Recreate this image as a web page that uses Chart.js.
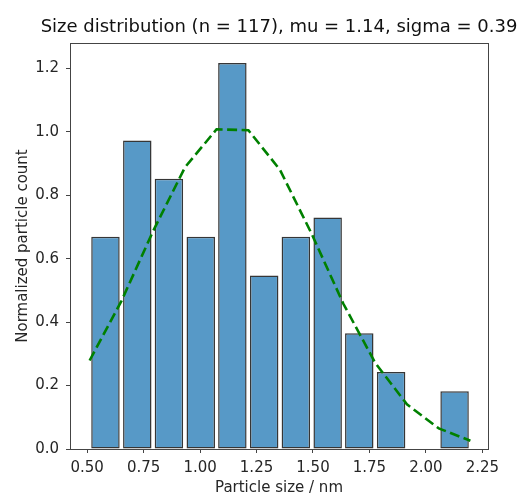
<!DOCTYPE html>
<html>
<head>
<meta charset="utf-8">
<script src="https://cdn.jsdelivr.net/npm/chart.js@4"></script>
<style>
  html, body { margin: 0; padding: 0; background: #fff; }
</style>
</head>
<body>
<canvas id="hist" width="521" height="497"></canvas>
<script>
// Particle size histogram (density) with a fitted normal curve on top.

// ── Data ──────────────────────────────────────────────────────
const BIN_CENTERS = [0.581, 0.722, 0.862, 1.003, 1.143, 1.284, 1.424, 1.565, 1.705, 1.846, 1.986, 2.127];
const DENSITY     = [0.669, 0.973, 0.852, 0.669, 1.217, 0.547, 0.669, 0.730, 0.365, 0.243, 0, 0.182];

// fitted normal curve, evaluated at the bin edges
const FIT_X = [0.511, 0.652, 0.792, 0.933, 1.073, 1.214, 1.354, 1.495, 1.635, 1.776, 1.916, 2.057, 2.197];
const FIT_Y = [0.279, 0.467, 0.687, 0.888, 1.008, 1.005, 0.880, 0.677, 0.457, 0.271, 0.141, 0.065, 0.026];

const X_TICKS = [0.50, 0.75, 1.00, 1.25, 1.50, 1.75, 2.00, 2.25];
const Y_TICKS = [0.0, 0.2, 0.4, 0.6, 0.8, 1.0, 1.2];

const TITLE = 'Size distribution (n = 117), mu = 1.14, sigma = 0.39';

// ── Shared look ───────────────────────────────────────────────
const FONT   = "'DejaVu Sans', sans-serif";
const INK    = '#262626';
const SPINE  = '#444';

Chart.defaults.font.family = FONT;
Chart.defaults.color       = INK;

// Draws the full box around the plot area (matplotlib spines)
// and the title, centred over the plot area like matplotlib does
const frame = {
  id: 'frame',
  afterDraw(chart) {
    const { ctx, chartArea: a } = chart;
    ctx.save();
    ctx.strokeStyle = SPINE;
    ctx.lineWidth   = 1;
    ctx.strokeRect(Math.round(a.left) + 0.5, Math.round(a.top) + 0.5,
                   Math.round(a.right - a.left), Math.round(a.bottom - a.top));

    ctx.fillStyle    = '#111';
    ctx.font         = `18px ${FONT}`;
    ctx.textAlign    = 'center';
    ctx.textBaseline = 'middle';
    ctx.fillText(TITLE, (a.left + a.right) / 2, a.top - 16);
    ctx.restore();
  }
};

new Chart(document.getElementById('hist'), {
  data: {
    datasets: [
      {
        type:            'line',
        data:            FIT_X.map((x, i) => ({ x, y: FIT_Y[i] })),
        borderColor:     '#008000',
        borderWidth:     2.6,
        borderDash:      [10, 4.5],
        pointRadius:     0,
        tension:         0,
        order:           0
      },
      {
        type:               'bar',
        data:               BIN_CENTERS.map((x, i) => ({ x, y: DENSITY[i] })),
        backgroundColor:    '#5799c7',
        borderColor:        '#363636',
        borderWidth:        1.5,
        borderSkipped:      false,
        barPercentage:      0.9,
        categoryPercentage: 1.0,
        order:              1
      }
    ]
  },
  plugins: [frame],
  options: {
    responsive: false,
    animation:  false,
    layout: { padding: { left: 0, right: 33, top: 43, bottom: 0 } },
    plugins: {
      legend:  { display: false },
      tooltip: { enabled: false },
      title:   { display: false }
    },
    scales: {
      x: {
        type:   'linear',
        offset: false,
        min:    0.424,
        max:    2.275,
        afterBuildTicks: (s) => { s.ticks = X_TICKS.map(v => ({ value: v })); },
        afterFit:        (s) => { s.height = 48; },
        grid:   { drawOnChartArea: false, offset: false, tickLength: 4, tickColor: SPINE },
        border: { display: false },
        ticks: {
          padding:  6,
          color:    INK,
          font:     { size: 15 },
          maxRotation: 0,
          callback: (v) => Number(v).toFixed(2)
        },
        title: {
          display: true,
          text:    'Particle size / nm',
          color:   INK,
          font:    { size: 15 },
          padding: { top: 0, bottom: 0 }
        }
      },
      y: {
        min: 0,
        max: 1.28,
        afterBuildTicks: (s) => { s.ticks = Y_TICKS.map(v => ({ value: v })); },
        afterFit:        (s) => { s.width = 70; },
        grid:   { drawOnChartArea: false, tickLength: 4, tickColor: SPINE },
        border: { display: false },
        ticks: {
          padding:  7,
          color:    INK,
          font:     { size: 15 },
          callback: (v) => Number(v).toFixed(1)
        },
        title: {
          display: true,
          text:    'Normalized particle count',
          color:   INK,
          font:    { size: 15 },
          padding: { top: 14, bottom: 0 }
        }
      }
    }
  }
});
</script>
</body>
</html>
